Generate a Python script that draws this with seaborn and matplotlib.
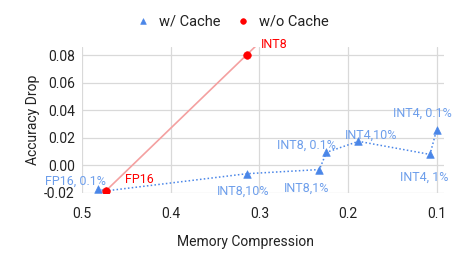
import numpy as np
import pandas as pd
import seaborn as sns
import matplotlib.pyplot as plt

# w/ Cache series (connected in data order)
cache_x = [0.482, 0.473, 0.314, 0.2325, 0.2246, 0.1885, 0.108, 0.1005]
cache_y = [-0.017, -0.0185, -0.006, -0.003, 0.0095, 0.0175, 0.008, 0.026]
cache_labels = ['FP16, 0.1%', '', 'INT8,10%', 'INT8,1%', 'INT8, 0.1%',
                'INT4,10%', 'INT4, 1%', 'INT4, 0.1%']

# w/o Cache series
nocache_x = [0.473, 0.314]
nocache_y = [-0.0185, 0.0805]
nocache_labels = ['FP16', 'INT8']

x_ticks = [0.5, 0.4, 0.3, 0.2, 0.1]
y_ticks = [-0.02, 0.00, 0.02, 0.04, 0.06, 0.08]

blue = '#4a86e8'
blue_txt = '#6d9eeb'
red = '#ff0000'

sns.set_style('white')
plt.rcParams['font.family'] = ['Roboto', 'DejaVu Sans']

df_c = pd.DataFrame({'x': cache_x, 'y': cache_y})
df_n = pd.DataFrame({'x': nocache_x, 'y': nocache_y})

fig = plt.figure(figsize=(4.57, 2.58), dpi=100)
ax = fig.add_axes([0.179, 0.252, 0.793, 0.566])

# red trendline through the w/o cache points, clipped by the axes
slope = (nocache_y[1] - nocache_y[0]) / (nocache_x[1] - nocache_x[0])
tx = np.array([0.5, 0.09])
ty = nocache_y[0] + slope * (tx - nocache_x[0])
ax.plot(tx, ty, color='#f4a0a0', lw=1.2, zorder=2)

sns.lineplot(data=df_c, x='x', y='y', sort=False, color=blue, lw=1.1,
             linestyle=(0, (1, 1.5)), ax=ax, zorder=3)
sns.scatterplot(data=df_c, x='x', y='y', marker='^', color=blue, s=30,
                edgecolor=blue, ax=ax, zorder=4, label='w/ Cache')
sns.scatterplot(data=df_n, x='x', y='y', marker='o', color=red, s=30,
                edgecolor=red, ax=ax, zorder=5, label='w/o Cache')

# point labels (offsets in pixels)
offs = [(-22, 8, 'center'), None, (-4, -18, 'center'), (-13, -19, 'center'),
        (-20, 7, 'center'), (13, 6, 'center'), (-6, -23, 'center'),
        (-14, 16, 'center')]
for xv, yv, lab, o in zip(cache_x, cache_y, cache_labels, offs):
    if o is None:
        continue
    ax.annotate(lab, (xv, yv), xytext=(o[0] * 0.72, o[1] * 0.72),
                textcoords='offset points', ha=o[2], va='center',
                color=blue_txt, fontsize=9, zorder=6)
ax.annotate('FP16', (nocache_x[0], nocache_y[0]), xytext=(24, 8),
            textcoords='offset points', ha='center', va='center',
            color=red, fontsize=9, zorder=6)
ax.annotate('INT8', (nocache_x[1], nocache_y[1]), xytext=(10, 7),
            textcoords='offset points', ha='left', va='center',
            color=red, fontsize=9, zorder=6)

ax.set_xlim(0.5, 0.092)
ax.set_ylim(-0.02, 0.086)
ax.set_xticks(x_ticks)
ax.set_xticklabels([f'{v:.1f}' for v in x_ticks])
ax.set_yticks(y_ticks)
ax.set_yticklabels([f'{v:.2f}' for v in y_ticks])
ax.grid(True, color='#d9d9d9', lw=0.9)
ax.set_axisbelow(True)
for s in ax.spines.values():
    s.set_visible(False)
ax.tick_params(axis='both', length=0, labelsize=10, colors='#222222')
ax.tick_params(axis='x', pad=10)
ax.tick_params(axis='y', pad=5)
ax.set_xlabel('Memory Compression', fontsize=10, color='#222222')
ax.xaxis.set_label_coords(0.453, -0.285)
ax.set_ylabel('Accuracy Drop', fontsize=10, color='#222222', labelpad=3)

ax.get_legend().remove()
h, l = ax.get_legend_handles_labels()
fig.legend(h, l, loc='center', bbox_to_anchor=(0.5, 0.918), ncol=2,
           frameon=False, fontsize=10.5, handletextpad=0.1, columnspacing=0.5,
           markerscale=0.75, labelcolor='#222222')

fig.savefig('out.png', dpi=100)
